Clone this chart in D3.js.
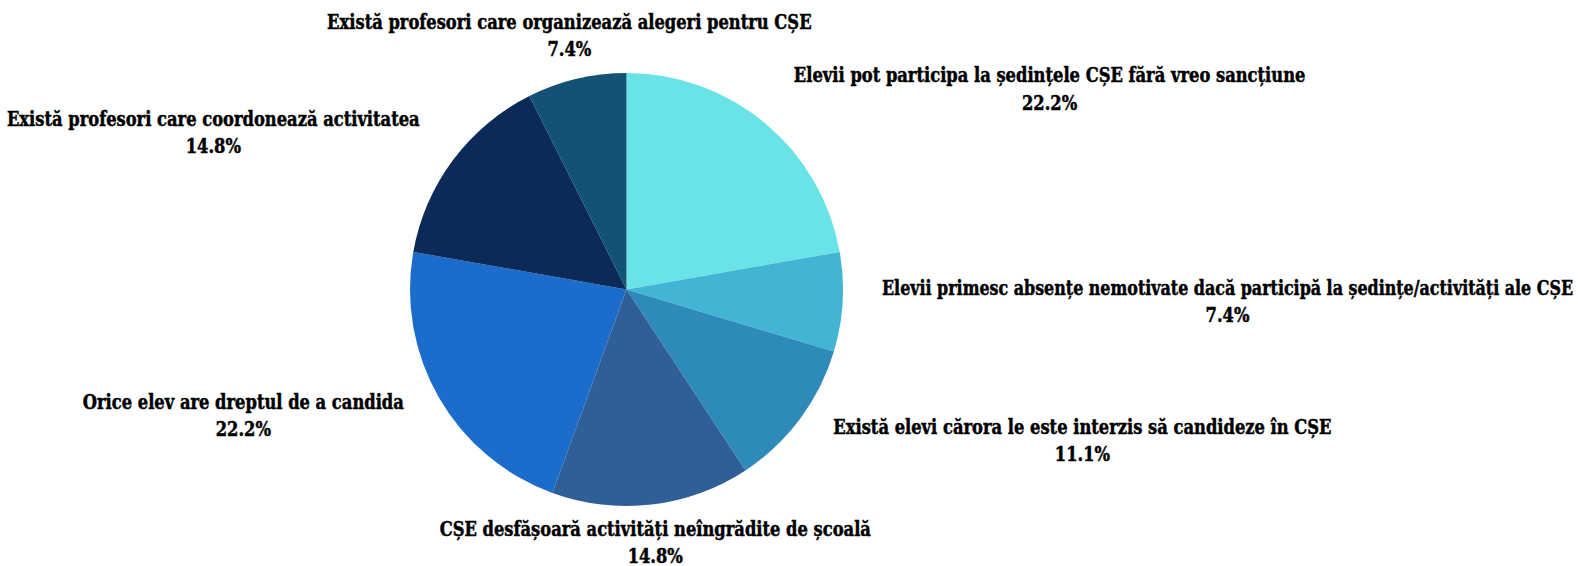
<!DOCTYPE html>
<html>
<head>
<meta charset="utf-8">
<script src="https://cdn.jsdelivr.net/npm/d3@7"></script>
<style>
  html, body { margin: 0; padding: 0; background: #ffffff; }
  svg { display: block; }
  .lbl {
    font-family: "DejaVu Serif Condensed", "DejaVu Serif", "Liberation Serif", serif;
    font-weight: bold; fill: #000; stroke: #000; stroke-width: 0.45px;
  }
</style>
</head>
<body>
<div id="chart"></div>
<script>
// Answers and their share of responses (%)
const categories = [
  "Elevii pot participa la ședințele CȘE fără vreo sancțiune",
  "Elevii primesc absențe nemotivate dacă participă la ședințe/activități ale CȘE",
  "Există elevi cărora le este interzis să candideze în CȘE",
  "CȘE desfășoară activități neîngrădite de școală",
  "Orice elev are dreptul de a candida",
  "Există profesori care coordonează activitatea",
  "Există profesori care organizează alegeri pentru CȘE"
];
const shares = [22.2, 7.4, 11.1, 14.8, 22.2, 14.8, 7.4];
const colors = ["#6ae3e8", "#42b5d5", "#2e8ab8", "#2f5f96", "#1c6dcb", "#0c2a57", "#135274"];

const W = 1578, H = 566;
const cx = 626.5, cy = 289.5, r = 216.5;
const squeeze = 0.93;   // horizontal condensing of label text
const edgePad = 5;      // keep labels inside the canvas

const svg = d3.select("#chart").append("svg")
  .attr("width", W).attr("height", H);

const rows = categories.map((c, i) => ({ name: c, value: shares[i], color: colors[i] }));

const pie = d3.pie().value(d => d.value).sort(null);
const arcs = pie(rows);
const arc = d3.arc().innerRadius(0).outerRadius(r);

const g = svg.append("g").attr("transform", `translate(${cx},${cy})`);

g.selectAll("path.slice")
  .data(arcs)
  .join("path")
  .attr("class", "slice")
  .attr("d", arc)
  .attr("fill", d => d.data.color);

// Labels sit just outside the rim along each slice's mid-angle
const labelR = r * 1.145;
const lineGap = 27.5;
const fmt = d3.format(".1f");

g.selectAll("text.lbl")
  .data(arcs)
  .join("text")
  .attr("class", "lbl")
  .style("font-size", "19.5px")
  .each(function (d) {
    const a = (d.startAngle + d.endAngle) / 2;
    const s = Math.sin(a), c = Math.cos(a);
    let x = labelR * s;
    const yc = -labelR * c - c * 10;
    let anchor = "middle";
    if (s > 0.35) { anchor = "start"; x += 8; }
    else if (s < -0.35) { anchor = "end"; x -= 8; }
    const t = d3.select(this);
    const y1 = yc - lineGap / 2 + 4;

    const name = t.append("tspan").attr("x", x).attr("y", y1)
      .attr("text-anchor", anchor).text(d.data.name);
    let w = name.node().getComputedTextLength() * squeeze;
    // condense further if the text would run past the canvas edge
    if (anchor === "start") w = Math.min(w, W - edgePad - (cx + x));
    if (anchor === "end") w = Math.min(w, cx + x - edgePad);
    name.attr("textLength", w).attr("lengthAdjust", "spacingAndGlyphs");

    // percentage centred beneath the category text
    const mid = anchor === "start" ? x + w / 2 : anchor === "end" ? x - w / 2 : x;
    const pct = t.append("tspan").attr("x", mid).attr("y", y1 + lineGap)
      .attr("text-anchor", "middle").text(fmt(d.data.value) + "%");
    const pw = pct.node().getComputedTextLength() * squeeze;
    pct.attr("textLength", pw).attr("lengthAdjust", "spacingAndGlyphs");
  });
</script>
</body>
</html>
